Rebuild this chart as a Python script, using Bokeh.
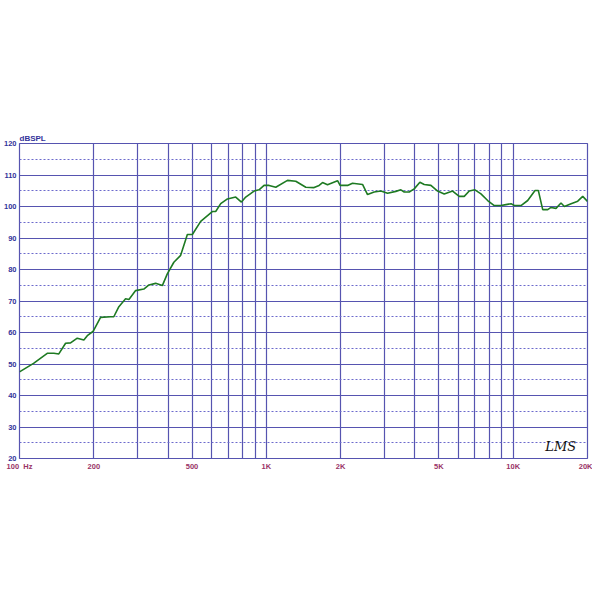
from bokeh.plotting import figure
from bokeh.models import FixedTicker, Label
from bokeh.embed import file_html
from bokeh.resources import INLINE

# Frequency response (Hz, dBSPL)
freq = [100, 114, 129.5, 137.8, 144.3, 153.7, 161, 171.4, 182.3, 188.2, 199,
        213, 234, 241, 252.7, 269, 277.5, 295.4, 319, 334.5, 356, 379, 397,
        422, 449.7, 478.6, 501.5, 542, 604, 623.5, 653.4, 695.6, 751.5, 792.5,
        825, 891.6, 934, 978.8, 1026, 1092, 1218, 1316, 1445, 1561, 1636, 1689,
        1769, 1943, 1990, 2133, 2234, 2453, 2570, 2733, 2910, 3098, 3347, 3508,
        3618, 3792, 3972, 4188, 4361, 4642, 4941, 5255, 5683, 6045, 6334, 6637,
        7000, 7403, 7882, 8382, 8925, 9350, 9797, 10104, 10755, 11451, 12260,
        12640, 13170, 13800, 14230, 14910, 15620, 16120, 17160, 18260, 19130,
        20000]
spl = [47.5, 50.2, 53.4, 53.4, 53.2, 56.6, 56.7, 58.2, 57.6, 59.0, 60.4,
       64.8, 65.0, 65.0, 68.2, 70.7, 70.5, 73.3, 73.8, 75.1, 75.6, 74.9, 78.6,
       82.3, 84.5, 91.1, 91.1, 95.3, 98.4, 98.4, 100.9, 102.4, 103.0, 101.4,
       103.0, 104.9, 105.3, 106.7, 106.7, 106.1, 108.3, 108.0, 106.1, 106.0,
       106.7, 107.6, 106.9, 108.2, 106.7, 106.7, 107.4, 107.0, 103.8, 104.6,
       104.9, 104.2, 104.8, 105.3, 104.6, 104.6, 105.6, 107.7, 107.0, 106.7,
       104.9, 104.0, 104.9, 103.2, 103.2, 104.9, 105.3, 104.0, 101.9, 100.3,
       100.3, 100.6, 100.9, 100.3, 100.3, 101.9, 105.1, 105.1, 99.0, 99.0,
       99.7, 99.4, 101.1, 100.0, 100.9, 101.7, 103.2, 101.6]

x_grid_ticks = [100, 200, 300, 400, 500, 600, 700, 800, 900,
                1000, 2000, 3000, 4000, 5000, 6000, 7000, 8000, 9000,
                10000, 20000]
x_label_ticks = [100, 200, 500, 1000, 2000, 5000, 10000, 20000]
x_label_text = ["100\u00a0\u00a0Hz", "200", "500", "1K", "2K", "5K", "10K", "20K"]
y_major = [20, 30, 40, 50, 60, 70, 80, 90, 100, 110, 120]
y_minor = [25, 35, 45, 55, 65, 75, 85, 95, 105, 115]

GRID = "#5654b0"
DASH = "#6c6acc"
YLAB = "#33339a"
XLAB = "#993366"

p = figure(width=592, height=584, x_axis_type="log",
           x_range=(100, 20000), y_range=(20, 120),
           output_backend="svg", toolbar_location=None,
           min_border_left=0, min_border_right=5,
           min_border_top=143, min_border_bottom=126)
p.background_fill_color = "white"
p.border_fill_color = "white"
p.outline_line_color = GRID
p.outline_line_width = 1.2

p.title.text = "dBSPL"
p.title.align = "left"
p.title.text_color = YLAB
p.title.text_font = "Liberation Sans"
p.title.text_font_style = "bold"
p.title.text_font_size = "8px"
p.title.standoff = 2
p.title.offset = 0

# grids
p.xgrid.ticker = FixedTicker(ticks=x_grid_ticks)
p.xgrid.grid_line_color = GRID
p.xgrid.grid_line_width = 1.2
p.ygrid.ticker = FixedTicker(ticks=y_major, minor_ticks=y_minor)
p.ygrid.grid_line_color = GRID
p.ygrid.grid_line_width = 1.2
p.ygrid.minor_grid_line_color = DASH
p.ygrid.minor_grid_line_dash = "2 2"
p.ygrid.minor_grid_line_width = 1

for ax in (p.xaxis[0], p.yaxis[0]):
    ax.axis_line_color = None
    ax.major_tick_line_color = None
    ax.minor_tick_line_color = None
    ax.major_tick_out = 0
    ax.major_tick_in = 0
    ax.minor_tick_out = 0
    ax.minor_tick_in = 0
    ax.major_label_text_font = "Liberation Sans"
    ax.major_label_text_font_style = "bold"
    ax.major_label_text_font_size = "7.5px"
    ax.major_label_standoff = 3

xa = p.xaxis[0]
xa.ticker = FixedTicker(ticks=x_label_ticks)
xa.major_label_overrides = {t: s for t, s in zip(x_label_ticks, x_label_text)}
xa.major_label_text_color = XLAB

ya = p.yaxis[0]
ya.ticker = FixedTicker(ticks=y_major)
ya.major_label_text_color = YLAB

p.line(freq, spl, line_color="#1e7a22", line_width=1.6)

p.add_layout(Label(x=13500, y=20, x_offset=0, y_offset=5, text="LMS",
                   text_color="#111111", text_font="DejaVu Serif",
                   text_font_style="italic", text_font_size="13px",
                   text_align="left", text_baseline="bottom"))

open("out.html", "w").write(file_html(p, INLINE))
